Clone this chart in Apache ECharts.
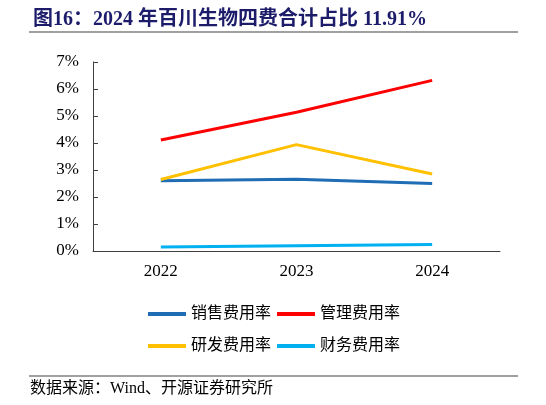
<!DOCTYPE html>
<html><head><meta charset="utf-8">
<script src="https://cdn.jsdelivr.net/npm/echarts@6/dist/echarts.min.js"></script>
<style>html,body{margin:0;padding:0;background:#fff}#c{width:546px;height:405px}</style>
</head><body><div id="c"></div>
<script>
const categories = ['2022', '2023', '2024'];
const salesRate = [2.60, 2.66, 2.50];
const mgmtRate = [4.11, 5.14, 6.32];
const rdRate = [2.65, 3.94, 2.85];
const finRate = [0.15, 0.19, 0.24];
const seriesNames = ['销售费用率', '管理费用率', '研发费用率', '财务费用率'];
const yTicks = [0, 1, 2, 3, 4, 5, 6, 7];

const serif = '"Liberation Serif", "Noto Sans CJK SC", serif';
const cjk = '"Liberation Serif", "Noto Sans CJK SC", sans-serif';
const colors = ['#1f6db5', '#ff0000', '#ffc000', '#00b0f0'];
const chart = echarts.init(document.getElementById('c'));
const legendText = { fontFamily: cjk, fontSize: 16, color: '#000' };
chart.setOption({
  animation: false,
  title: {
    text: '图16：2024 年百川生物四费合计占比 11.91%',
    left: 28, top: 5,
    textStyle: { fontFamily: serif, fontSize: 20, fontWeight: 'bold', color: '#1c1c6b' }
  },
  graphic: [
    { type: 'line', shape: { x1: 29, y1: 32, x2: 518, y2: 32 }, style: { stroke: '#808080', lineWidth: 1.5 } },
    { type: 'line', shape: { x1: 29, y1: 376, x2: 518, y2: 376 }, style: { stroke: '#808080', lineWidth: 1.5 } },
    { type: 'text', left: 30, top: 381, style: { text: '数据来源：Wind、开源证券研究所', font: '16px ' + cjk, fill: '#000' } }
  ],
  legend: [
    { data: [seriesNames[0], seriesNames[1]], left: 143, top: 301, itemWidth: 38, itemHeight: 4, itemGap: 6, icon: 'rect', textStyle: legendText },
    { data: [seriesNames[2], seriesNames[3]], left: 143, top: 333, itemWidth: 38, itemHeight: 4, itemGap: 6, icon: 'rect', textStyle: legendText }
  ],
  grid: { left: 93, right: 46, top: 62, bottom: 154 },
  xAxis: {
    type: 'category', data: categories, boundaryGap: true,
    axisLine: { lineStyle: { color: '#404040', width: 1 } },
    axisTick: { inside: true, length: 4, lineStyle: { color: '#404040' } },
    axisLabel: { fontFamily: serif, fontSize: 17, color: '#000', margin: 12 }
  },
  yAxis: {
    type: 'value', min: yTicks[0], max: yTicks[yTicks.length - 1], interval: 1,
    splitLine: { show: false },
    axisLine: { show: true, lineStyle: { color: '#404040', width: 1 } },
    axisTick: { show: true, inside: true, length: 5, lineStyle: { color: '#404040' } },
    axisLabel: { fontFamily: serif, fontSize: 17, color: '#000', margin: 14, formatter: '{value}%' }
  },
  series: [
    { name: seriesNames[0], type: 'line', data: salesRate, color: colors[0], symbol: 'none', lineStyle: { width: 3 } },
    { name: seriesNames[1], type: 'line', data: mgmtRate, color: colors[1], symbol: 'none', lineStyle: { width: 3 } },
    { name: seriesNames[2], type: 'line', data: rdRate, color: colors[2], symbol: 'none', lineStyle: { width: 3 } },
    { name: seriesNames[3], type: 'line', data: finRate, color: colors[3], symbol: 'none', lineStyle: { width: 3 } }
  ]
});
</script></body></html>
